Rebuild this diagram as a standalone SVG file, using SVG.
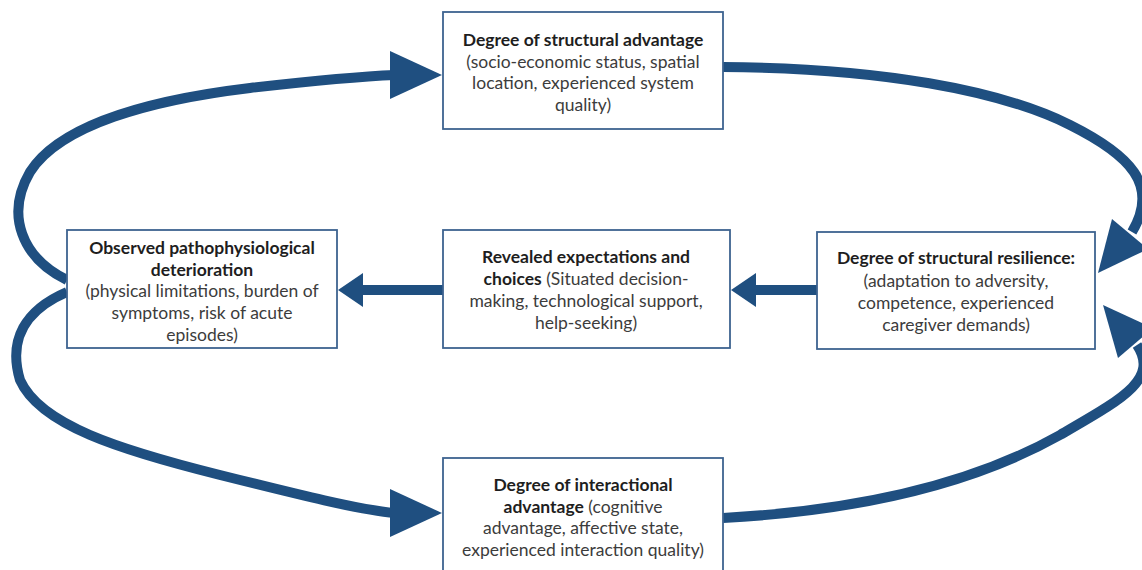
<svg xmlns="http://www.w3.org/2000/svg" width="1142" height="570" viewBox="0 0 1142 570">
<style>
.box{fill:#fff;stroke:#3d6390;stroke-width:1.8}
.t{font-family:Lato,"Liberation Sans",sans-serif;font-size:17.5px;fill:#3c3c3c;text-anchor:middle}
.b{font-weight:bold;fill:#1e1e1e}
.c{fill:none;stroke:#1f4f80;stroke-width:10}
.h{fill:#1f4f80}
</style>
<rect width="1142" height="570" fill="#fff"/>
<g id="connectors">
<path class="c" d="M67,280 C22,258 5,215 30,172 C60,125 150,100 250,88 C320,80 370,76 395,75"/>
<polygon class="h" points="442,75 390,51 390,99"/>
<path class="c" d="M67,292 C25,310 8,340 20,380 C40,425 120,450 220,475 C300,495 360,510 395,513"/>
<polygon class="h" points="442,513 390,489 390,537"/>
<path class="c" d="M723,67 C880,68 1000,90 1070,125 C1130,155 1160,185 1132,232"/>
<polygon class="h" points="1098,273 1112,219 1148,249"/>
<path class="c" d="M723,518 C870,510 980,480 1060,435 C1120,400 1160,380 1137,345"/>
<polygon class="h" points="1103,305 1118,358 1153,328"/>
<rect class="h" x="360" y="285" width="84" height="10"/>
<polygon class="h" points="338,290 363,273 363,307"/>
<rect class="h" x="752" y="285" width="66" height="10"/>
<polygon class="h" points="731,290 756,273 756,307"/>
</g>
<g id="n-structural-advantage">
<rect class="box" x="443" y="12" width="280" height="117"/>
<text class="t b" x="583" y="46">Degree of structural advantage</text>
<text class="t" x="583" y="68">(socio-economic status, spatial</text>
<text class="t" x="583" y="89">location, experienced system</text>
<text class="t" x="583" y="111">quality)</text>
</g>
<g id="n-pathophysiological">
<rect class="box" x="67" y="230" width="270" height="118"/>
<text class="t b" x="202" y="254">Observed pathophysiological</text>
<text class="t b" x="202" y="276">deterioration</text>
<text class="t" x="202" y="297">(physical limitations, burden of</text>
<text class="t" x="202" y="319">symptoms, risk of acute</text>
<text class="t" x="202" y="341">episodes)</text>
</g>
<g id="n-revealed">
<rect class="box" x="443" y="230" width="287" height="118"/>
<text class="t b" x="586" y="263">Revealed expectations and</text>
<text class="t" x="586" y="285"><tspan class="b">choices</tspan> (Situated decision-</text>
<text class="t" x="586" y="307">making, technological support,</text>
<text class="t" x="586" y="329">help-seeking)</text>
</g>
<g id="n-resilience">
<rect class="box" x="817" y="232" width="278" height="117"/>
<text class="t b" x="956" y="264">Degree of structural resilience:</text>
<text class="t" x="956" y="287">(adaptation to adversity,</text>
<text class="t" x="956" y="309">competence, experienced</text>
<text class="t" x="956" y="331">caregiver demands)</text>
</g>
<g id="n-interactional">
<rect class="box" x="443" y="458" width="280" height="118"/>
<text class="t b" x="583" y="491">Degree of interactional</text>
<text class="t" x="583" y="513"><tspan class="b">advantage</tspan> (cognitive</text>
<text class="t" x="583" y="534">advantage, affective state,</text>
<text class="t" x="583" y="556">experienced interaction quality)</text>
</g>
</svg>
